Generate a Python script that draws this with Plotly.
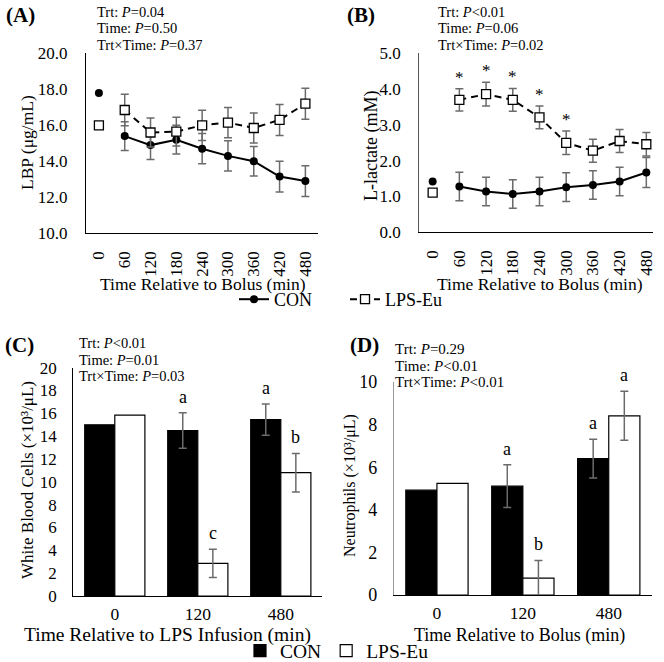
import plotly.graph_objects as go

W, H = 664, 662
FONT = "Liberation Serif, Times New Roman, serif"

# ---------------- data ----------------
times = ["0", "60", "120", "180", "240", "300", "360", "420", "480"]
lbp_con = [17.8, 15.4, 14.9, 15.2, 14.7, 14.3, 14.0, 13.15, 12.9]
lbp_con_err = [0.0, 0.8, 0.8, 0.8, 0.84, 0.84, 0.82, 0.85, 0.85]
lbp_lps = [16.0, 16.85, 15.6, 15.65, 16.0, 16.15, 15.85, 16.3, 17.2]
lbp_lps_err = [0.0, 0.87, 0.8, 0.8, 0.84, 0.84, 0.84, 0.86, 0.86]

lac_con = [1.42, 1.28, 1.14, 1.07, 1.14, 1.26, 1.32, 1.42, 1.67]
lac_con_err = [0.0, 0.4, 0.4, 0.4, 0.4, 0.4, 0.4, 0.4, 0.42]
lac_lps = [1.11, 3.70, 3.86, 3.70, 3.21, 2.50, 2.28, 2.55, 2.46]
lac_lps_err = [0.0, 0.31, 0.33, 0.32, 0.32, 0.33, 0.32, 0.32, 0.33]
lac_sig = ["", "*", "*", "*", "*", "*", "", "", ""]

bar_times = ["0", "120", "480"]
wbc_con = [15.0, 14.5, 15.45]
wbc_con_err = [0.0, 1.55, 1.37]
wbc_lps = [15.85, 2.86, 10.8]
wbc_lps_err = [0.0, 1.23, 1.69]
wbc_con_let = ["", "a", "a"]
wbc_lps_let = ["", "c", "b"]

neu_con = [4.92, 5.11, 6.40]
neu_con_err = [0.0, 1.0, 0.91]
neu_lps = [5.24, 0.79, 8.41]
neu_lps_err = [0.0, 0.83, 1.15]
neu_con_let = ["", "a", "a"]
neu_lps_let = ["", "b", "a"]

stats_A = ["Trt: <i>P</i>=0.04", "Time: <i>P</i>=0.50", "Trt×Time: <i>P</i>=0.37"]
stats_B = ["Trt: <i>P</i><0.01", "Time: <i>P</i>=0.06", "Trt×Time: <i>P</i>=0.02"]
stats_C = ["Trt: <i>P</i><0.01", "Time: <i>P</i>=0.01", "Trt×Time: <i>P</i>=0.03"]
stats_D = ["Trt: <i>P</i>=0.29", "Time: <i>P</i><0.01", "Trt×Time: <i>P</i><0.01"]

ERR_COL = "#6b6b6b"
BARGAP = 0.275


def fx(p):
    return p / W


def fy(p):
    return 1 - p / H


fig = go.Figure()


def line_panel(xa, ya, con, con_err, lps, lps_err, legend_on):
    # baseline (time 0) points, not joined to the line
    fig.add_trace(go.Scatter(x=times[:1], y=con[:1], mode="markers", xaxis=xa, yaxis=ya,
                             marker=dict(symbol="circle", size=8, color="black"),
                             showlegend=False))
    fig.add_trace(go.Scatter(x=times[:1], y=lps[:1], mode="markers", xaxis=xa, yaxis=ya,
                             marker=dict(symbol="square", size=9, color="white",
                                         line=dict(color="black", width=1.3)),
                             showlegend=False))
    fig.add_trace(go.Scatter(x=times[1:], y=con[1:], mode="lines+markers", xaxis=xa, yaxis=ya,
                             name="CON", legend="legend", showlegend=legend_on,
                             line=dict(color="black", width=2),
                             marker=dict(symbol="circle", size=8, color="black"),
                             error_y=dict(type="data", array=con_err[1:], color=ERR_COL,
                                          thickness=1.5, width=4)))
    fig.add_trace(go.Scatter(x=times[1:], y=lps[1:], mode="lines+markers", xaxis=xa, yaxis=ya,
                             name="LPS-Eu", legend="legend", showlegend=legend_on,
                             line=dict(color="black", width=2, dash="7px,5px"),
                             marker=dict(symbol="square", size=9, color="white",
                                         line=dict(color="black", width=1.3)),
                             error_y=dict(type="data", array=lps_err[1:], color=ERR_COL,
                                          thickness=1.5, width=4)))


line_panel("x", "y", lbp_con, lbp_con_err, lbp_lps, lbp_lps_err, True)
line_panel("x2", "y2", lac_con, lac_con_err, lac_lps, lac_lps_err, False)


def bar_panel(xa, ya, con, con_err, lps, lps_err, legend_on):
    # time 0 bars without error bars
    fig.add_trace(go.Bar(x=bar_times[:1], y=con[:1], xaxis=xa, yaxis=ya, offsetgroup="con",
                         name="CON", legend="legend2", showlegend=legend_on,
                         marker=dict(color="black", line=dict(color="black", width=1.2))))
    fig.add_trace(go.Bar(x=bar_times[:1], y=lps[:1], xaxis=xa, yaxis=ya, offsetgroup="lps",
                         name="LPS-Eu", legend="legend2", showlegend=legend_on,
                         marker=dict(color="white", line=dict(color="black", width=1.2))))
    fig.add_trace(go.Bar(x=bar_times[1:], y=con[1:], xaxis=xa, yaxis=ya, offsetgroup="con",
                         showlegend=False,
                         marker=dict(color="black", line=dict(color="black", width=1.2)),
                         error_y=dict(type="data", array=con_err[1:], color=ERR_COL,
                                      thickness=1.5, width=4)))
    fig.add_trace(go.Bar(x=bar_times[1:], y=lps[1:], xaxis=xa, yaxis=ya, offsetgroup="lps",
                         showlegend=False,
                         marker=dict(color="white", line=dict(color="black", width=1.2)),
                         error_y=dict(type="data", array=lps_err[1:], color=ERR_COL,
                                      thickness=1.5, width=4)))


bar_panel("x3", "y3", wbc_con, wbc_con_err, wbc_lps, wbc_lps_err, True)
bar_panel("x4", "y4", neu_con, neu_con_err, neu_lps, neu_lps_err, False)

annotations = []


def txt(text, x, y, size, xanchor="center", yanchor="middle", angle=0, **kw):
    annotations.append(dict(text=text, x=fx(x), y=fy(y), xref="paper", yref="paper",
                            xanchor=xanchor, yanchor=yanchor, showarrow=False,
                            textangle=angle, font=dict(family=FONT, size=size, color="black"), **kw))


# panel labels
txt("<b>(A)</b>", 4, 15, 21, xanchor="left")
txt("<b>(B)</b>", 345, 15, 21, xanchor="left")
txt("<b>(C)</b>", 3, 345, 21, xanchor="left")
txt("<b>(D)</b>", 348, 345, 21, xanchor="left")

# stats text
for lines, x0, ys, sz in [(stats_A, 95, [12.3, 28.3, 45], 14.5),
                          (stats_B, 436, [12.3, 28.3, 45], 14.5),
                          (stats_C, 77, [343.3, 359.5, 376], 14.5),
                          (stats_D, 393, [349.3, 366, 382], 15)]:
    for s, yy in zip(lines, ys):
        txt(s, x0, yy, sz, xanchor="left")

# axis titles
txt("LBP (μg/mL)", 27, 143, 17.5, angle=-90)
txt("L-lactate (mM)", 371, 146, 18, angle=-90)
txt("White Blood Cells (×10³/μL)", 27, 480, 17, angle=-90)
txt("Neutrophils (×10³/μL)", 350, 486, 16, angle=-90)
txt("Time Relative to Bolus (min)", 202.5, 284, 17.5)
txt("Time Relative to Bolus (min)", 539.5, 284, 17.5)
txt("Time Relative to LPS Infusion (min)", 167.5, 635, 19.5)
txt("Time Relative to Bolus (min)", 519.5, 635, 18)

# significance markers (data-anchored)
for i, s in enumerate(lac_sig):
    if s:
        annotations.append(dict(text=s, x=i, y=lac_lps[i] + lac_lps_err[i], xref="x2", yref="y2",
                                xanchor="center", yanchor="bottom", showarrow=False, yshift=0,
                                font=dict(family=FONT, size=17, color="black")))

off = (1 - BARGAP) / 4
for xr, yr, con, cerr, lps, lerr, clet, llet in [
        ("x3", "y3", wbc_con, wbc_con_err, wbc_lps, wbc_lps_err, wbc_con_let, wbc_lps_let),
        ("x4", "y4", neu_con, neu_con_err, neu_lps, neu_lps_err, neu_con_let, neu_lps_let)]:
    for i in range(len(bar_times)):
        for val, err, let, sgn in [(con[i], cerr[i], clet[i], -1), (lps[i], lerr[i], llet[i], 1)]:
            if let:
                annotations.append(dict(text=let, x=i + sgn * off, y=val + err, xref=xr, yref=yr,
                                        xanchor="center", yanchor="bottom", showarrow=False,
                                        yshift=4, font=dict(family=FONT, size=18, color="black")))


def xax(domain, cats, rng, angle, size, standoff):
    return dict(domain=domain, type="category", categoryorder="array", categoryarray=cats,
                range=rng, showline=True, linecolor="black", linewidth=1.3, ticks="",
                tickangle=angle, tickfont=dict(family=FONT, size=size, color="black"),
                showgrid=False, zeroline=False, ticklabelstandoff=standoff, automargin=False)


def yax(domain, rng, dtick, fmt, size, lc, standoff):
    return dict(domain=domain, range=rng, dtick=dtick, tick0=0, tickformat=fmt, showline=True,
                linecolor=lc, linewidth=1.3, ticks="", showgrid=False, zeroline=False,
                tickfont=dict(family=FONT, size=size, color="black"), ticklabelstandoff=standoff,
                automargin=False)


fig.update_layout(
    width=W, height=H,
    margin=dict(l=0, r=0, t=0, b=0, pad=0, autoexpand=False),
    paper_bgcolor="white", plot_bgcolor="white",
    font=dict(family=FONT, color="black"),
    barmode="group", bargap=BARGAP, bargroupgap=0,
    xaxis=xax([fx(86), fx(318.3)], times, [-0.5, 8.5], -90, 17, 10),
    yaxis=yax([fy(233.3), fy(53.3)], [10, 20], 2, ".1f", 17, "black", 14),
    xaxis2=xax([fx(419.3), fx(653)], times, [-0.5, 8.25], -90, 17, 10),
    yaxis2=yax([fy(232.3), fy(53.3)], [0, 5], 1, ".1f", 17, "#555555", 14),
    xaxis3=xax([fx(73.3), fx(322.3)], bar_times, [-0.5, 2.5], 0, 17.5, 2),
    yaxis3=yax([fy(596), fy(367.7)], [0, 20], 2, "d", 17, "black", 12),
    xaxis4=xax([fx(394), fx(651.7)], bar_times, [-0.5, 2.5], 0, 17.5, 2),
    yaxis4=yax([fy(595), fy(382)], [0, 10], 2, "d", 18, "#999999", 12),
    legend=dict(orientation="h", x=fx(234), y=fy(299.5), xanchor="left", yanchor="middle",
                font=dict(family=FONT, size=18, color="black"), bgcolor="rgba(0,0,0,0)",
                itemwidth=30, entrywidth=66, traceorder="normal"),
    legend2=dict(orientation="h", x=fx(337), y=fy(651), xanchor="center", yanchor="middle",
                 font=dict(family=FONT, size=19.5, color="black"), bgcolor="rgba(0,0,0,0)",
                 itemwidth=30, traceorder="normal"),
    annotations=annotations,
)
fig.update_layout(xaxis2_anchor="y2", yaxis2_anchor="x2", xaxis3_anchor="y3",
                  yaxis3_anchor="x3", xaxis4_anchor="y4", yaxis4_anchor="x4")

fig.write_html("out.html", config={"displayModeBar": False},
               post_script="document.body.style.margin='0px';document.body.style.overflow='hidden';")
